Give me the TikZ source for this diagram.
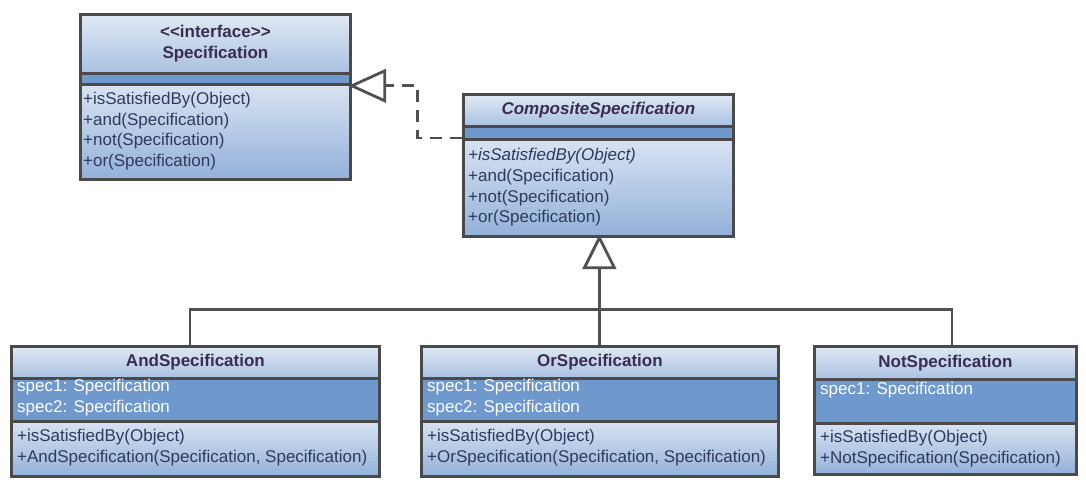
\documentclass[tikz,border=0pt]{standalone}
\usepackage{fontspec}
\setmainfont{Liberation Sans}
\usetikzlibrary{calc}
\definecolor{bord}{HTML}{4A4A4A}
\definecolor{lnC}{HTML}{505050}
\definecolor{hdrT}{HTML}{E0E9F5}
\definecolor{hdrB}{HTML}{A9C1E1}
\definecolor{attC}{HTML}{6F98CD}
\definecolor{mT}{HTML}{D8E3F2}
\definecolor{mB}{HTML}{93B1DA}
\definecolor{ttl}{HTML}{3A2D50}
\definecolor{mtc}{HTML}{2E3B5C}
\begin{document}
\begin{tikzpicture}[x=1pt,y=-1pt,
  bx/.style={draw=bord, line width=2.8pt, rectangle, inner sep=0pt, anchor=north west},
  hdr/.style={bx, top color=hdrT, bottom color=hdrB},
  att/.style={bx, fill=attC},
  mth/.style={bx, top color=mT, bottom color=mB},
  ttxt/.style={inner sep=0pt, text=ttl, font=\fontsize{17}{21}\selectfont\bfseries, align=center},
  mtxt/.style={anchor=west, inner sep=0pt, text=mtc, font=\fontsize{17}{20.7}\selectfont, align=left},
  atxt/.style={mtxt, text=white},
  conn/.style={draw=lnC, line width=2.8pt},
  dconn/.style={conn, dash pattern=on 12pt off 8pt}]
\useasboundingbox (0,0) rectangle (1086,485);
% Specification
\node[hdr, minimum width=270pt, minimum height=59pt] (specH) at (79,13) {};
\node[att, minimum width=270pt, minimum height=11pt] (specA) at (79,72) {};
\node[mth, minimum width=270pt, minimum height=95pt] (specM) at (79,83) {};
\node[ttxt] (specT) at (specH.center) {{<}{<}interface{>}{>}\\Specification};
\node[mtxt] (specL) at (83,131) {+isSatisfiedBy(Object)\\+and(Specification)\\+not(Specification)\\+or(Specification)};
% CompositeSpecification
\node[hdr, minimum width=270pt, minimum height=32pt] (compH) at (462,93) {};
\node[att, minimum width=270pt, minimum height=13pt] (compA) at (462,125) {};
\node[mth, minimum width=270pt, minimum height=97pt] (compM) at (462,138) {};
\node[ttxt, font=\fontsize{17}{21}\selectfont\bfseries\itshape] (compT) at (compH.center) {CompositeSpecification};
\node[mtxt] (compL) at (468,187.5) {\textit{+isSatisfiedBy(Object)}\\+and(Specification)\\+not(Specification)\\+or(Specification)};
% AndSpecification
\node[hdr, minimum width=368pt, minimum height=32pt] (andH) at (10,345) {};
\node[att, minimum width=368pt, minimum height=43pt] (andA) at (10,377) {};
\node[mth, minimum width=368pt, minimum height=55pt] (andM) at (10,420) {};
\node[ttxt] (andT) at (andH.center) {AndSpecification};
\node[atxt] (andAL) at (17,397.5) {spec1: Specification\\spec2: Specification};
\node[mtxt] (andML) at (17,447.5) {+isSatisfiedBy(Object)\\+AndSpecification(Specification, Specification)};
% OrSpecification
\node[hdr, minimum width=357pt, minimum height=32pt] (orH) at (420,345) {};
\node[att, minimum width=357pt, minimum height=43pt] (orA) at (420,377) {};
\node[mth, minimum width=357pt, minimum height=55pt] (orM) at (420,420) {};
\node[ttxt] (orT) at (orH.center) {OrSpecification};
\node[atxt] (orAL) at (427,397.5) {spec1: Specification\\spec2: Specification};
\node[mtxt] (orML) at (427,447.5) {+isSatisfiedBy(Object)\\+OrSpecification(Specification, Specification)};
% NotSpecification
\node[hdr, minimum width=262pt, minimum height=33pt] (notH) at (813,345) {};
\node[att, minimum width=262pt, minimum height=44pt] (notA) at (813,378) {};
\node[mth, minimum width=262pt, minimum height=51pt] (notM) at (813,422) {};
\node[ttxt] (notT) at (notH.center) {NotSpecification};
\node[atxt] (notAL) at (820,390) {spec1: Specification};
\node[mtxt] (notML) at (820,448.5) {+isSatisfiedBy(Object)\\+NotSpecification(Specification)};
% realization
\coordinate (rTip) at (specA.south east);
\coordinate (rBase) at ($(rTip)+(33,0)$);
\coordinate (rCorner) at ($(rTip)+(66,0)$);
\coordinate (rStart) at (compM.north west);
\draw[dconn] (rStart) -- (rStart -| rCorner) -- (rCorner) -- (rBase);
\draw[conn, fill=white, line join=miter] (rTip) -- ++(33,-15) -- ++(0,30) -- cycle;
% generalization
\coordinate (gTip) at ([xshift=1pt]compM.south);
\coordinate (gBase) at ($(gTip)+(0,30)$);
\coordinate (bus) at ($(gTip)+(0,72)$);
\coordinate (aTop) at ([xshift=180pt]andH.north west);
\coordinate (oTop) at (gTip |- orH.north);
\coordinate (nTop) at ([xshift=139pt]notH.north west);
\draw[conn] (gBase) -- (oTop);
\draw[conn] (aTop) |- (bus) -| (nTop);
\draw[conn, fill=white, line join=miter] (gTip) -- ++(-15,30) -- ++(30,0) -- cycle;
\end{tikzpicture}
\end{document}
